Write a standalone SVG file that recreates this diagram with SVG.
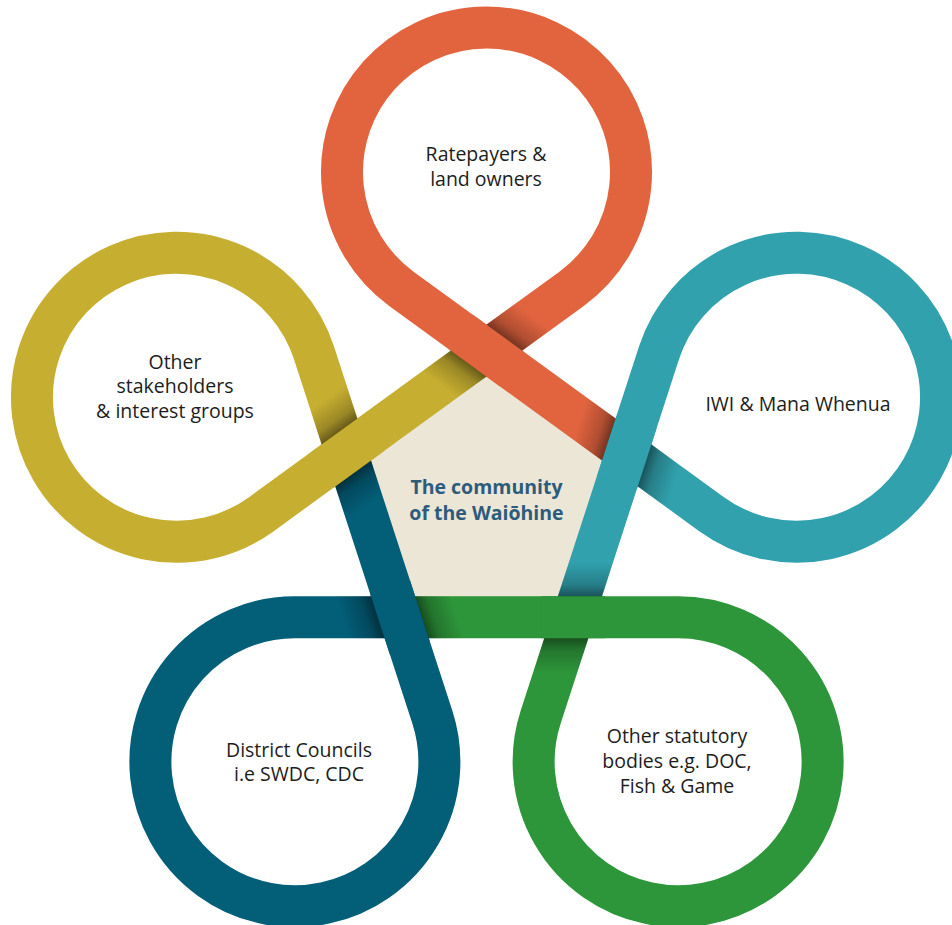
<svg xmlns="http://www.w3.org/2000/svg" xmlns:xlink="http://www.w3.org/1999/xlink" width="952" height="925" viewBox="0 0 952 925">
<style>
.band{fill:none;stroke-width:42;stroke-linecap:butt;stroke-linejoin:round}
.lbl{font-family:"Open Sans","Lato","Liberation Sans",sans-serif;font-size:19.5px;fill:#1d1d1b;text-anchor:middle}
.ctr{font-weight:700;fill:#2d5b7c}
</style>
<defs>
<linearGradient id="shd" x1="0" y1="0" x2="0" y2="1">
<stop offset="0" stop-color="#000" stop-opacity="0.5"/>
<stop offset="0.35" stop-color="#000" stop-opacity="0.22"/>
<stop offset="1" stop-color="#000" stop-opacity="0"/>
</linearGradient>
<path id="sh" d="M-28.58,20 L15.58,20 L4.21,55 L-39.95,55 Z" fill="url(#shd)"/>
</defs>
<rect width="952" height="925" fill="#fff"/>
<g id="center">
<polygon points="486.5,350.612 626.675,452.454 573.132,617.24 399.868,617.24 346.325,452.454" fill="#ebe6d6"/>
<text class="lbl ctr" x="486.5" y="494.3">The community</text>
<text class="lbl ctr" x="486.5" y="520">of the Waiōhine</text>
</g>
<g id="ratepayers">
<path class="band" stroke="#e2643f" d="M626.675,452.454 L401.566,288.903 A144.5,144.5 0 1 1 571.434,288.903 L486.5,350.612"/>
<text class="lbl" x="486" y="161">Ratepayers &amp;</text>
<text class="lbl" x="486" y="185.5">land owners</text>
</g>
<g id="iwi">
<path class="band" stroke="#31a1ad" d="M626.675,452.454 L711.61,514.163 A144.5,144.5 0 1 0 659.117,352.608 L573.132,617.24"/>
<text class="lbl" x="798" y="410.5">IWI &amp; Mana Whenua</text>
</g>
<g id="statutory">
<path class="band" stroke="#2d963a" d="M573.132,617.24 L540.69,717.087 A144.5,144.5 0 1 0 678.118,617.24 L399.868,617.24"/>
<text class="lbl" x="677" y="743.3">Other statutory</text>
<text class="lbl" x="677" y="768.3">bodies e.g. DOC,</text>
<text class="lbl" x="677" y="792.7">Fish &amp; Game</text>
</g>
<g id="councils">
<path class="band" stroke="#035e78" d="M399.868,617.24 L294.882,617.24 A144.5,144.5 0 1 0 432.31,717.087 L346.325,452.454"/>
<text class="lbl" x="299" y="756.5">District Councils</text>
<text class="lbl" x="299" y="781">i.e SWDC, CDC</text>
</g>
<g id="stakeholders">
<path class="band" stroke="#c6ae30" d="M346.325,452.454 L313.883,352.608 A144.5,144.5 0 1 0 261.39,514.163 L486.5,350.612"/>
<text class="lbl" x="175" y="369">Other</text>
<text class="lbl" x="175" y="393.3">stakeholders</text>
<text class="lbl" x="175" y="417.7">&amp; interest groups</text>
</g>
<g id="crossings">
<use xlink:href="#sh" href="#sh" transform="translate(486.5,350.612) rotate(36)"/>
<use xlink:href="#sh" href="#sh" transform="translate(486.5,350.612) rotate(216)"/>
<rect x="-32" y="-21" width="64" height="42" fill="#e2643f" transform="translate(486.5,350.612) rotate(36)"/>
<use xlink:href="#sh" href="#sh" transform="translate(626.675,452.454) rotate(108)"/>
<use xlink:href="#sh" href="#sh" transform="translate(626.675,452.454) rotate(288)"/>
<rect x="-32" y="-21" width="64" height="42" fill="#31a1ad" transform="translate(626.675,452.454) rotate(108)"/>
<use xlink:href="#sh" href="#sh" transform="translate(573.132,617.24) rotate(180)"/>
<use xlink:href="#sh" href="#sh" transform="translate(573.132,617.24) rotate(0)"/>
<rect x="-32" y="-21" width="64" height="42" fill="#2d963a" transform="translate(573.132,617.24) rotate(180)"/>
<use xlink:href="#sh" href="#sh" transform="translate(399.868,617.24) rotate(252)"/>
<use xlink:href="#sh" href="#sh" transform="translate(399.868,617.24) rotate(72)"/>
<rect x="-32" y="-21" width="64" height="42" fill="#035e78" transform="translate(399.868,617.24) rotate(252)"/>
<use xlink:href="#sh" href="#sh" transform="translate(346.325,452.454) rotate(324)"/>
<use xlink:href="#sh" href="#sh" transform="translate(346.325,452.454) rotate(144)"/>
<rect x="-32" y="-21" width="64" height="42" fill="#c6ae30" transform="translate(346.325,452.454) rotate(324)"/>
</g>
</svg>
